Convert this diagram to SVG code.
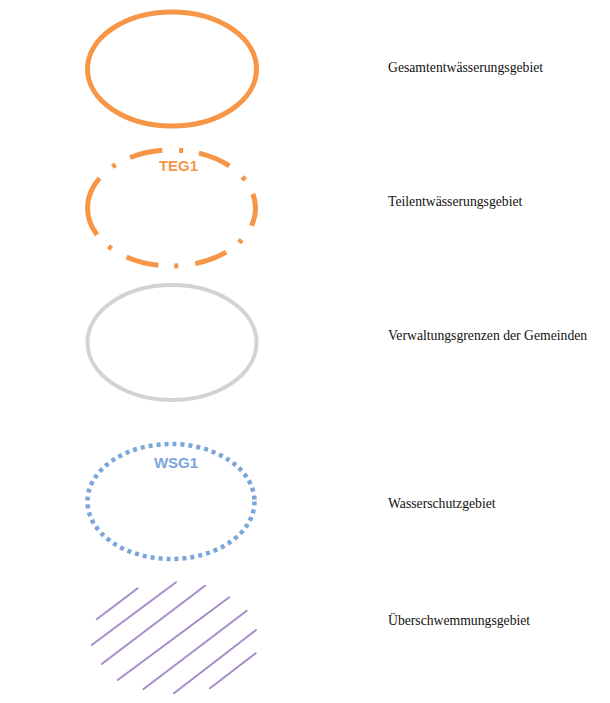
<svg xmlns="http://www.w3.org/2000/svg" width="610" height="703" viewBox="0 0 610 703">
<style>
.lbl{font-family:"Liberation Serif","Times New Roman",serif;font-size:13.7px;fill:#111}
.tag{font-family:"Liberation Sans",Arial,sans-serif;font-size:15px;font-weight:bold;text-anchor:middle}
.org{fill:none;stroke:#F79646;stroke-width:5}
.hatch line{stroke:#A88CCA;stroke-width:2;stroke-linecap:round}
</style>
<rect width="610" height="703" fill="#fff"/>
<g id="gesamt">
<ellipse class="org" cx="172" cy="69" rx="84.5" ry="57"/>
<text class="lbl" x="388" y="72">Gesamtentwässerungsgebiet</text>
</g>
<g id="teil">
<path class="org" stroke-dasharray="33 17 4 16" d="M87.5 208 A84 58 0 0 1 255.5 208 A84 58 0 0 1 87.5 208"/>
<text class="tag" x="178.5" y="171" fill="#F79646">TEG1</text>
<text class="lbl" x="388" y="206">Teilentwässerungsgebiet</text>
</g>
<g id="verwaltung">
<ellipse cx="172" cy="342.5" rx="84.5" ry="57.5" fill="none" stroke="#D3D3D3" stroke-width="4"/>
<text class="lbl" x="388" y="340">Verwaltungsgrenzen der Gemeinden</text>
</g>
<g id="wasserschutz">
<ellipse cx="171" cy="501.5" rx="83.5" ry="57.5" fill="none" stroke="#7AA6DA" stroke-width="4.5" stroke-dasharray="4 4"/>
<text class="tag" x="176" y="467.5" fill="#7AA6DA">WSG1</text>
<text class="lbl" x="388" y="508">Wasserschutzgebiet</text>
</g>
<g id="ueberschwemmung">
<g class="hatch">
<line x1="96.7" y1="619.3" x2="137.7" y2="588.3"/>
<line x1="91.7" y1="645" x2="176" y2="582.3"/>
<line x1="101.7" y1="664" x2="205" y2="585.7"/>
<line x1="117.7" y1="680" x2="229.3" y2="597.3"/>
<line x1="143.3" y1="689.3" x2="246.7" y2="610.7"/>
<line x1="174" y1="693.3" x2="256" y2="630"/>
<line x1="210" y1="688.3" x2="255.7" y2="653.3"/>
</g>
<text class="lbl" x="388" y="625">Überschwemmungsgebiet</text>
</g>
</svg>
